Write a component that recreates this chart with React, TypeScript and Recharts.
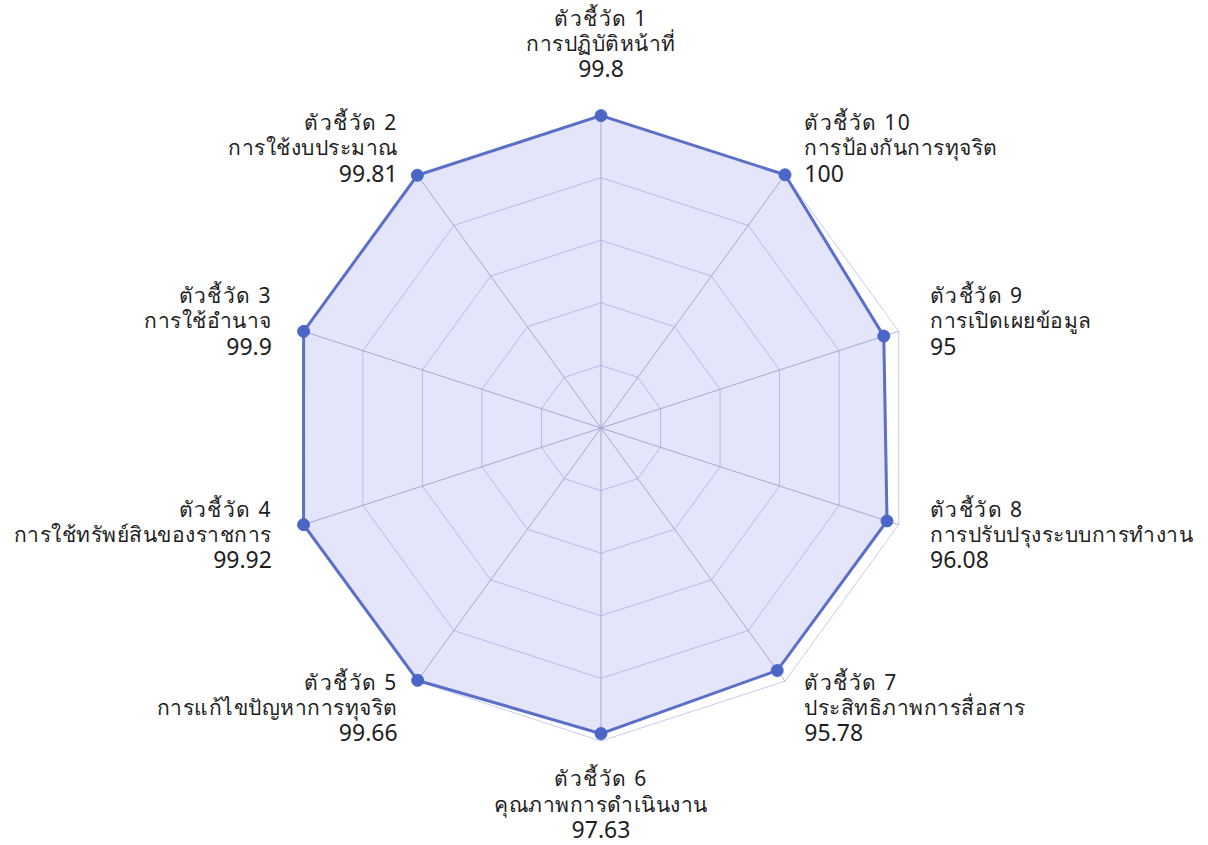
import { PolarAngleAxis, PolarGrid, PolarRadiusAxis, Radar, RadarChart } from "recharts";

const indicatorLabels = [
  "ตัวชี้วัด 1",
  "ตัวชี้วัด 2",
  "ตัวชี้วัด 3",
  "ตัวชี้วัด 4",
  "ตัวชี้วัด 5",
  "ตัวชี้วัด 6",
  "ตัวชี้วัด 7",
  "ตัวชี้วัด 8",
  "ตัวชี้วัด 9",
  "ตัวชี้วัด 10",
];

const indicatorNames = [
  "การปฏิบัติหน้าที่",
  "การใช้งบประมาณ",
  "การใช้อำนาจ",
  "การใช้ทรัพย์สินของราชการ",
  "การแก้ไขปัญหาการทุจริต",
  "คุณภาพการดำเนินงาน",
  "ประสิทธิภาพการสื่อสาร",
  "การปรับปรุงระบบการทำงาน",
  "การเปิดเผยข้อมูล",
  "การป้องกันการทุจริต",
];

const scores = [99.8, 99.81, 99.9, 99.92, 99.66, 97.63, 95.78, 96.08, 95, 100];

const CX = 601;
const CY = 428;
const R = 313;
const LH = 25.5;

// recharts draws clockwise from the top; the picture goes counter-clockwise,
// so keep indicator 1 first and reverse the rest
const rows = indicatorLabels.map((label, i) => ({
  key: label,
  name: indicatorNames[i],
  score: scores[i],
}));
const data = [rows[0], ...rows.slice(1).reverse()];

const lineStyles = [
  { size: 21, spacing: 1.4 },
  { size: 21, spacing: 0.5 },
  { size: 23, spacing: 0 },
];

function AxisLabel(props: any) {
  const { x, y, payload } = props;
  const dx = x - CX;
  const dy = y - CY;
  const len = Math.sqrt(dx * dx + dy * dy) || 1;
  const cos = dx / len;
  const sin = -dy / len;
  const px = CX + (R + 33) * cos;
  const py = CY - (R + 33) * sin;
  let anchor = "middle";
  if (cos > 0.01) anchor = "start";
  if (cos < -0.01) anchor = "end";
  // centre of the middle line
  let mid = py;
  if (Math.abs(cos) < 0.01) {
    mid = sin > 0 ? py - 1.5 * LH : py + 1.2 * LH;
  }
  const row = data.find((d) => d.key === payload.value);
  const lines = [payload.value, row ? row.name : "", row ? String(row.score) : ""];
  return (
    <text x={px} y={mid} textAnchor={anchor} fill="#1e1e1e" fontFamily="'Noto Sans', Tahoma, sans-serif">
      {lines.map((t, i) => (
        <tspan
          key={i}
          x={px}
          y={mid + (i - 1) * LH + lineStyles[i].size * 0.35}
          fontSize={lineStyles[i].size}
          letterSpacing={lineStyles[i].spacing}
        >
          {t}
        </tspan>
      ))}
    </text>
  );
}

export default function App() {
  return (
    <div style={{ position: "absolute", left: 0, top: 0, width: 1208, height: 845, background: "#fff" }}>
      <RadarChart
        width={1208}
        height={845}
        data={data}
        cx={CX}
        cy={CY}
        outerRadius={R}
        margin={{ top: 0, right: 0, bottom: 0, left: 0 }}
      >
        <PolarGrid gridType="polygon" radialLines={false} stroke="#cacaf2" strokeWidth={1} />
        <PolarGrid gridType="polygon" polarRadius={[]} radialLines stroke="#b4b4cc" strokeWidth={1} />
        <PolarRadiusAxis domain={[0, 100]} tickCount={6} tick={false} axisLine={false} />
        <PolarAngleAxis dataKey="key" tick={<AxisLabel />} tickLine={false} axisLine={false} />
        <Radar
          dataKey="score"
          stroke="#5a70c8"
          strokeWidth={3}
          fill="#7676e8"
          fillOpacity={0.2}
          dot={{ r: 6, fill: "#4a67c8", stroke: "#4a67c8", strokeWidth: 1, fillOpacity: 1 }}
          isAnimationActive={false}
        />
      </RadarChart>
    </div>
  );
}
